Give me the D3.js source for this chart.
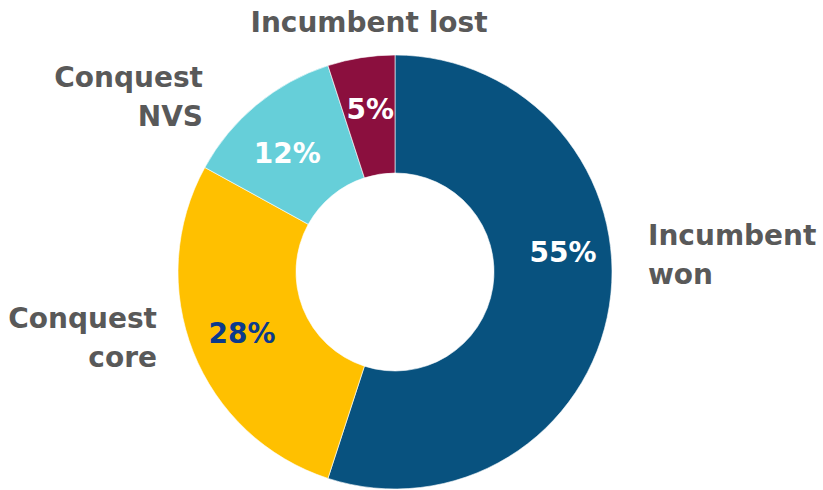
<!DOCTYPE html>
<html>
<head>
<meta charset="utf-8">
<script src="https://cdn.jsdelivr.net/npm/d3@7"></script>
<style>
  html, body { margin: 0; padding: 0; background: #fff; }
  svg { display: block; }
  text { font-family: "Century Gothic", "URW Gothic", "DejaVu Sans", sans-serif; font-weight: bold; }
</style>
</head>
<body>
<svg id="chart" width="823" height="490"></svg>
<script>
// Share of outcomes, drawn clockwise from 12 o'clock
const categories = ["Incumbent won", "Conquest core", "Conquest NVS", "Incumbent lost"];
const values = [55, 28, 12, 5];
const colors = ["#08527F", "#FFC000", "#66CFD9", "#8B0F3E"];
const valueTextColors = ["#FFFFFF", "#0B3A8C", "#FFFFFF", "#FFFFFF"];

// Category names split over lines, with anchor placement
const nameLayout = [
  { lines: ["Incumbent", "won"], x: 648, y: 245, anchor: "start" },
  { lines: ["Conquest", "core"], x: 157, y: 328, anchor: "end" },
  { lines: ["Conquest", "NVS"], x: 203, y: 87, anchor: "end" },
  { lines: ["Incumbent lost"], x: 369, y: 32, anchor: "middle" }
];
// Nudges applied to value labels from their slice centroid
const valueNudge = [[12, -44], [-6, 3], [-7, 3], [0, -6]];

const cx = 395, cy = 272, outerR = 217, innerR = 99;

const svg = d3.select("#chart");
const g = svg.append("g").attr("transform", `translate(${cx},${cy})`);

const pie = d3.pie().sort(null).value(d => d.value);
const data = pie(categories.map((c, i) => ({ name: c, value: values[i], i })));

const arc = d3.arc().innerRadius(innerR).outerRadius(outerR);
const labelArc = d3.arc().innerRadius(158).outerRadius(158);

g.selectAll("path.slice")
  .data(data)
  .join("path")
  .attr("class", "slice")
  .attr("d", arc)
  .attr("fill", d => colors[d.data.i])
  .attr("stroke", "#fff")
  .attr("stroke-width", 0.6);

g.selectAll("text.value")
  .data(data)
  .join("text")
  .attr("class", "value")
  .attr("x", d => labelArc.centroid(d)[0] + valueNudge[d.data.i][0])
  .attr("y", d => labelArc.centroid(d)[1] + valueNudge[d.data.i][1])
  .attr("text-anchor", "middle")
  .attr("dominant-baseline", "central")
  .attr("fill", d => valueTextColors[d.data.i])
  .style("font-size", "28px")
  .text(d => d.data.value + "%");

const names = svg.selectAll("text.name")
  .data(nameLayout)
  .join("text")
  .attr("class", "name")
  .attr("text-anchor", d => d.anchor)
  .attr("fill", "#595959")
  .style("font-size", "28px");

names.each(function(d) {
  const t = d3.select(this);
  d.lines.forEach((line, k) => {
    t.append("tspan").attr("x", d.x).attr("y", d.y + k * 39).text(line);
  });
});
</script>
</body>
</html>
